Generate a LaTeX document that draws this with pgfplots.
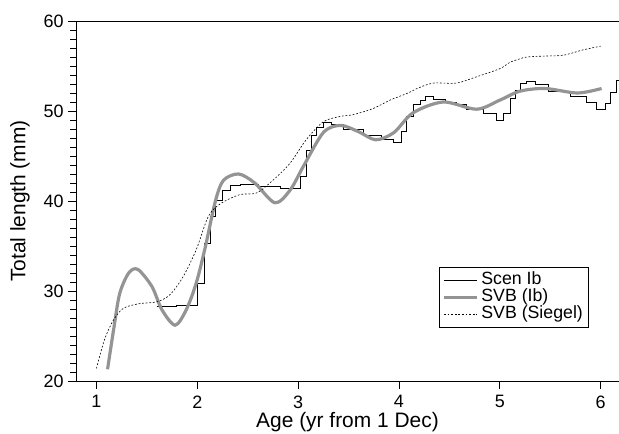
\documentclass[border=0pt]{standalone}
\usepackage{pgfplots}
\pgfplotsset{compat=1.18}
\usepackage{fontspec}
\setmainfont{Liberation Sans}
\definecolor{svbgray}{RGB}{148,148,148}
\begin{document}
\begin{tikzpicture}
\useasboundingbox (-76bp,-53bp) rectangle (543bp,381bp);
\begin{axis}[
  at={(0,0)}, anchor=south west,
  scale only axis, width=543bp, height=360bp,
  xmin=0.797, xmax=6.183, ymin=20, ymax=60,
  axis x line*=box, axis y line*=left,
  axis line style={line width=0.9pt, -},
  xtick={1,2,3,4,5,6}, ytick={20,30,40,50,60},
  minor y tick num=9,
  xtick pos=bottom, ytick pos=left,
  tick align=outside,
  major tick length=8bp, minor tick length=5.5bp,
  tick style={black, line width=0.7pt},
  /pgf/number format/assume math mode=true,
  ticklabel style={font=\fontsize{18}{20}\selectfont},
  xticklabel style={yshift=-3bp},
  yticklabel style={xshift=-1bp},
  label style={font=\fontsize{21}{23}\selectfont},
  xlabel={Age (yr from 1 Dec)},
  ylabel={Total length (mm)},
  xlabel style={yshift=3bp},
  ylabel style={yshift=7bp},
  legend style={at={(0.9448,0.317)}, anchor=north east, draw=black, line width=0.7pt,
    font=\fontsize{17.8}{17.8}\selectfont, inner xsep=3bp, inner ysep=5bp, row sep=0.4bp,
    nodes={inner xsep=2.8bp, inner ysep=0pt, text height=12.6bp, text depth=3.8bp},
    cells={anchor=west}},
  legend image code/.code={\draw[#1] (0bp,0bp) -- (33bp,0bp);},
]
\addplot[const plot, black, line width=0.8pt] coordinates {
(1.597,28.3) (1.796,28.4) (2.000,30.9) (2.069,35.3) (2.126,38.3) (2.183,40.1)
(2.248,41.2) (2.324,41.7) (2.424,41.8) (2.602,41.6) (2.820,41.4) (3.019,42.7)
(3.078,45.6) (3.135,47.3) (3.185,48.2) (3.250,48.7) (3.333,48.5) (3.448,48.0)
(3.647,47.3) (3.829,46.9) (3.944,46.5) (4.028,47.7) (4.077,49.4) (4.143,50.7)
(4.209,51.2) (4.259,51.6) (4.341,51.3) (4.457,51.0) (4.573,50.7) (4.673,50.2)
(4.837,49.7) (4.970,49.0) (5.036,49.7) (5.102,51.4) (5.152,52.3) (5.201,53.1)
(5.268,53.3) (5.350,53.0) (5.482,52.2) (5.697,51.6) (5.863,51.0) (5.962,50.2)
(6.045,50.9) (6.094,52.1) (6.154,53.4) (6.25,53.4)
};
\addlegendentry{Scen Ib}
\addplot[smooth, svbgray, line width=3.2pt] coordinates {
(1.11,21.3) (1.17,25.7) (1.23,29.7) (1.32,32.0) (1.41,32.4) (1.55,30.5)
(1.65,27.9) (1.78,26.2) (1.89,27.9) (1.99,30.9) (2.08,34.9) (2.18,40.0)
(2.26,42.3) (2.41,43.0) (2.57,42.0) (2.77,39.8) (2.92,41.2) (3.05,43.8)
(3.25,47.6) (3.42,48.4) (3.6,47.7) (3.77,46.8) (3.95,47.6) (4.14,49.8)
(4.44,51.0) (4.77,50.2) (5.0,51.2) (5.2,52.2) (5.45,52.5) (5.77,52.0) (6.01,52.5)
};
\addlegendentry{SVB (Ib)}
\addplot[smooth, black, line width=0.6pt, dash pattern=on 1.8bp off 1.8bp] coordinates {
(1.0,21.4) (1.08,24.6) (1.17,26.8) (1.27,28.1) (1.43,28.6) (1.60,28.8)
(1.73,29.6) (1.86,31.6) (1.99,34.6) (2.11,38.3) (2.23,39.7) (2.42,40.7)
(2.59,40.9) (2.75,42.3) (2.92,44.2) (3.08,46.8) (3.25,48.8) (3.42,49.4)
(3.55,49.6) (3.75,50.3) (3.91,51.2) (4.09,52.0) (4.18,52.5) (4.34,53.1)
(4.57,53.1) (4.77,53.8) (5.0,54.7) (5.1,55.4) (5.2,55.8) (5.27,56.0)
(5.43,56.1) (5.63,56.2) (5.83,56.8) (6.0,57.2)
};
\addlegendentry{SVB (Siegel)}
\end{axis}
\end{tikzpicture}
\end{document}
